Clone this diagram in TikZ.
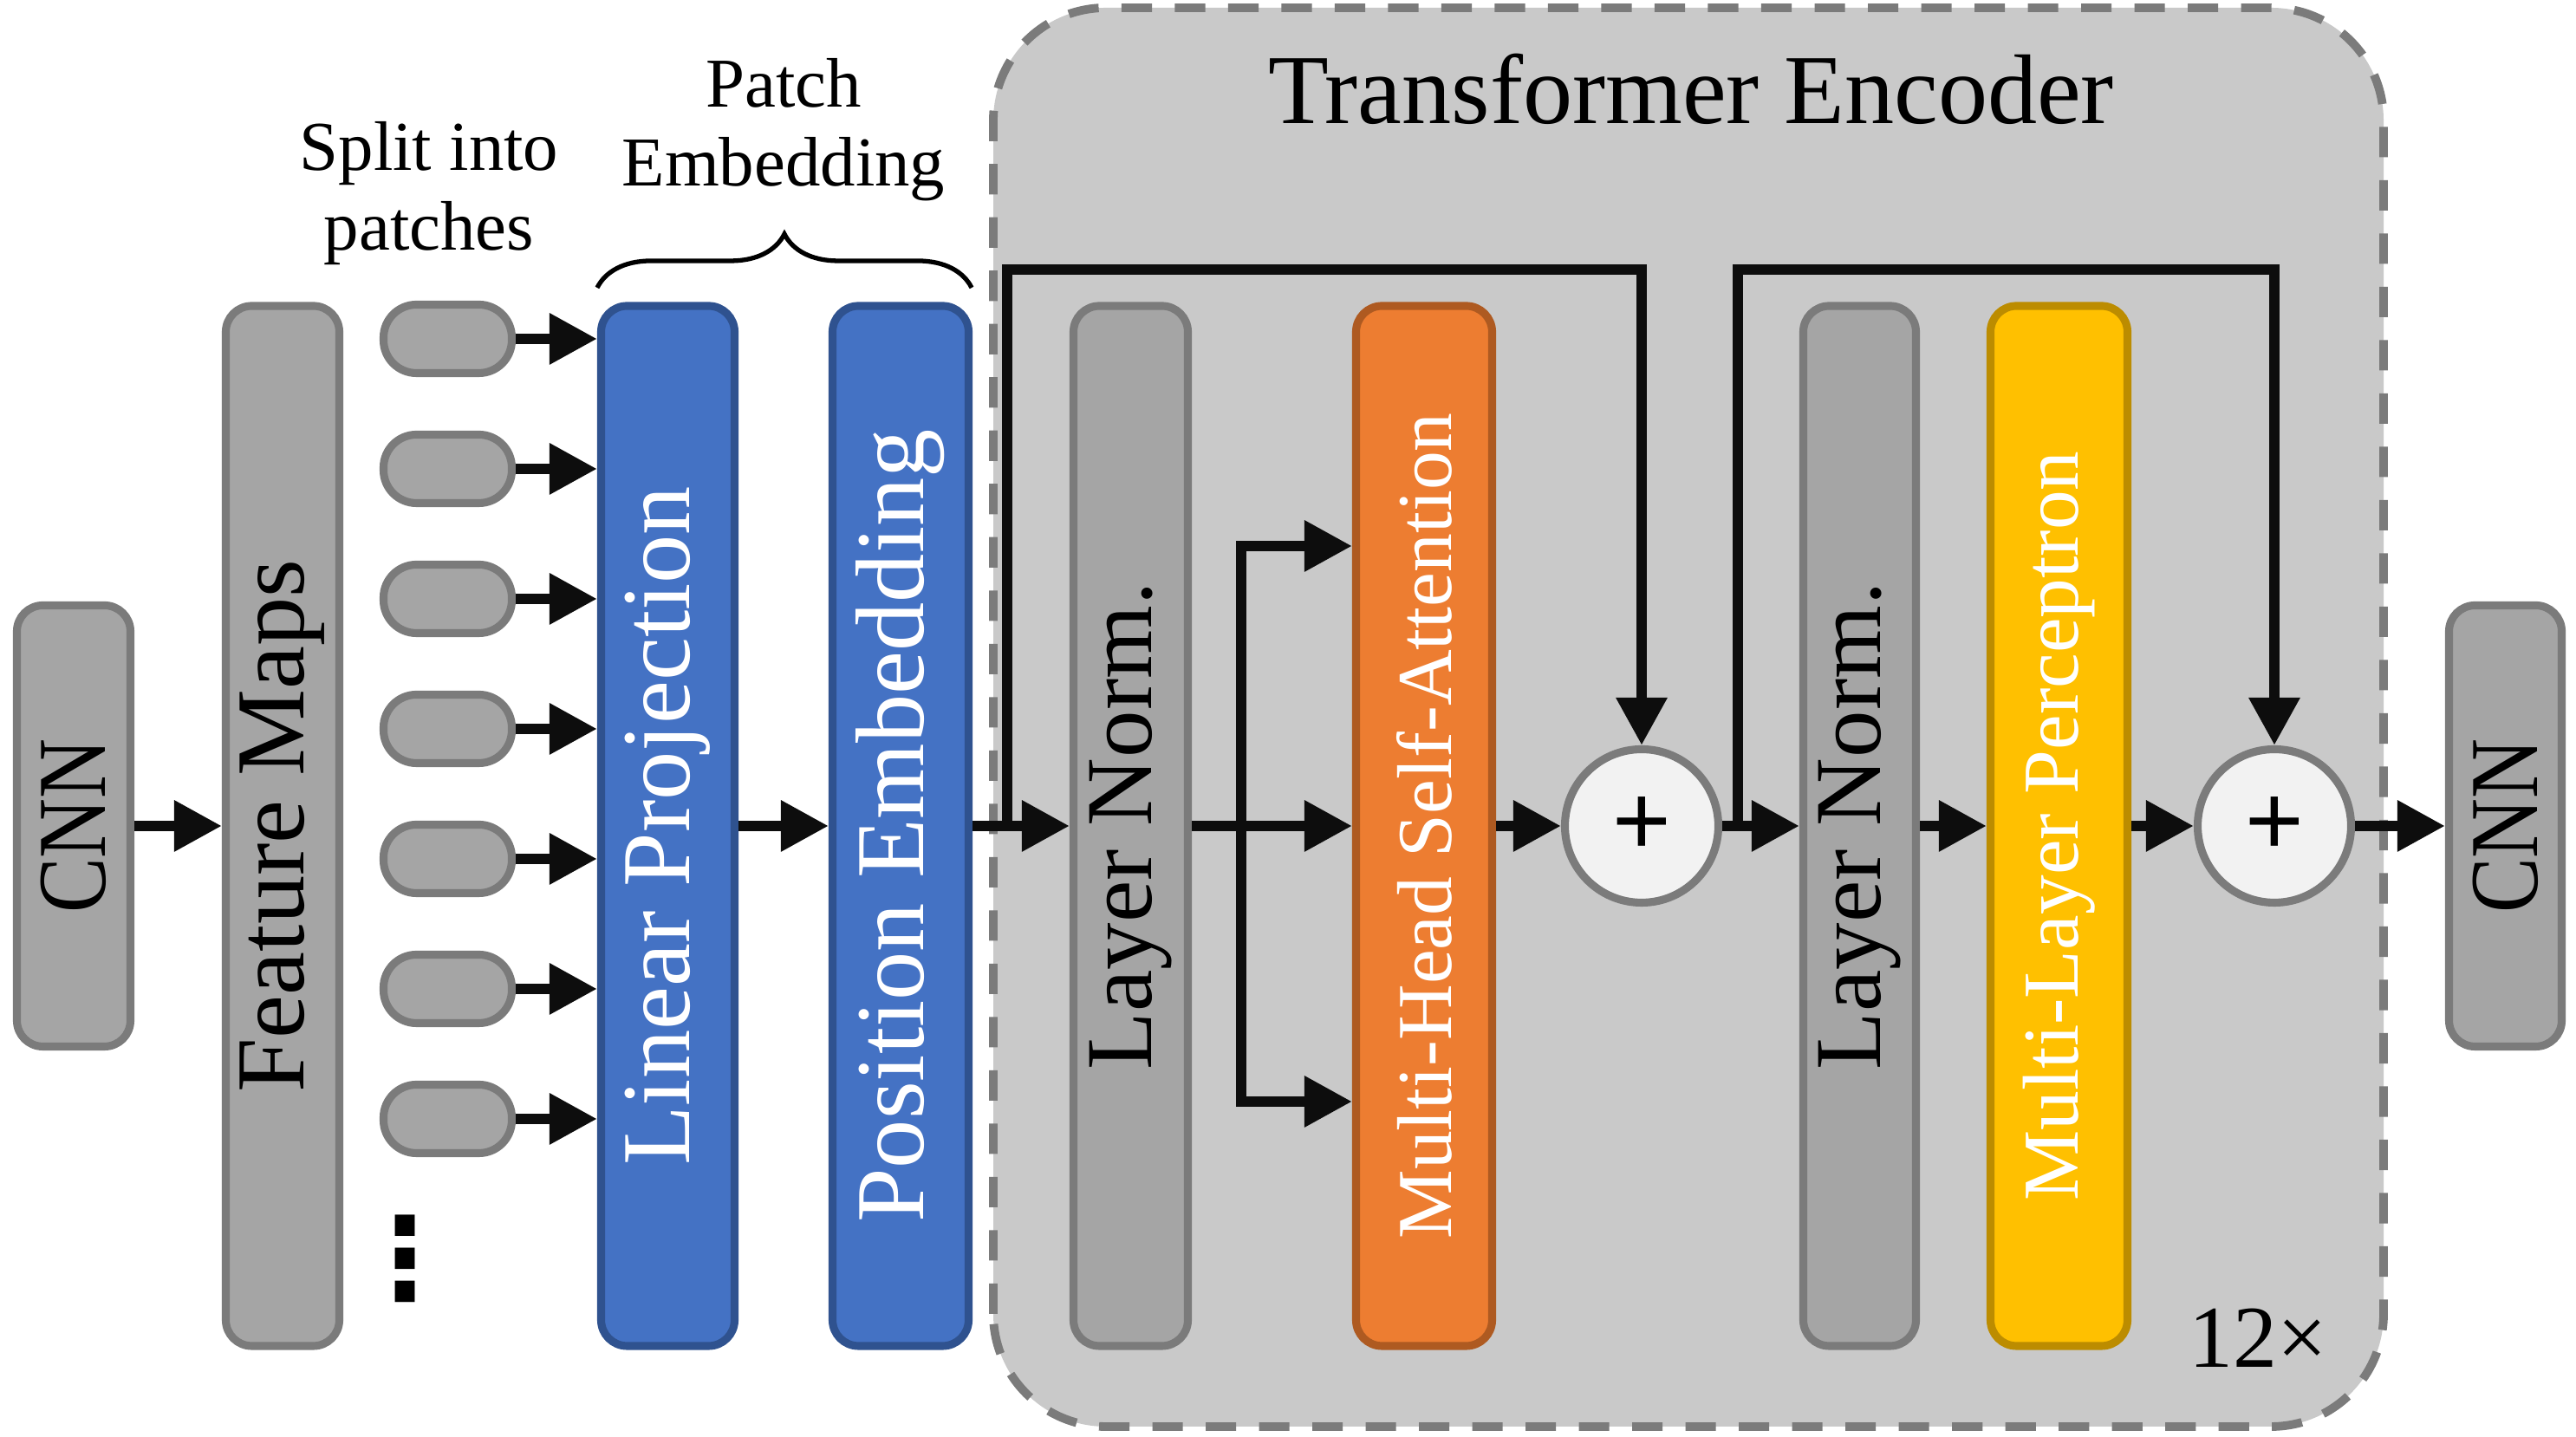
\documentclass[tikz,border=0pt]{standalone}
\usepackage{fontspec}
\setmainfont{Liberation Serif}
\newfontfamily\plusfont{Liberation Sans}
\newfontfamily\dotsfont{DejaVu Sans}
\usetikzlibrary{arrows.meta,decorations.pathreplacing}

\definecolor{boxgray}{HTML}{A5A5A5}
\definecolor{edgegray}{HTML}{7B7B7B}
\definecolor{encgray}{HTML}{C9C9C9}
\definecolor{projblue}{HTML}{4472C4}
\definecolor{projedge}{HTML}{2F528F}
\definecolor{attnorange}{HTML}{ED7D31}
\definecolor{attnedge}{HTML}{AE5A21}
\definecolor{mlpyellow}{HTML}{FFC000}
\definecolor{mlpedge}{HTML}{BC8C00}
\definecolor{addfill}{HTML}{F2F2F2}
\definecolor{arrowblack}{HTML}{0D0D0D}

\tikzset{
  block/.style={line width=2.6pt, rounded corners=0.3cm, inner sep=0pt,
    minimum height=12cm, font=\fontsize{32}{38}\selectfont},
  graybox/.style={block, draw=edgegray, fill=boxgray},
  bluebox/.style={block, draw=projedge, fill=projblue, text=white},
  orangebox/.style={block, draw=attnedge, fill=attnorange, text=white},
  yellowbox/.style={block, draw=mlpedge, fill=mlpyellow, text=white},
  patch/.style={draw=edgegray, fill=boxgray, line width=2.6pt,
    rounded corners=0.38cm, minimum width=1.48cm, minimum height=0.79cm},
  addnode/.style={circle, draw=edgegray, fill=addfill, line width=2.6pt,
    minimum size=1.77cm, inner sep=0pt, font=\plusfont\fontsize{33}{33}\selectfont},
  flow/.style={draw=arrowblack, line width=3.6pt,
    -{Triangle[length=0.55cm,width=0.56cm]}},
  encoder/.style={draw=edgegray, fill=encgray, line width=2.8pt,
    dash pattern=on 10pt off 7.5pt, rounded corners=1.3cm},
  note/.style={align=center, inner sep=0pt, font=\fontsize{23}{26}\selectfont}
}

\begin{document}
\begin{tikzpicture}
\useasboundingbox (0,0) rectangle (29.72,16.58);

% encoder background
\draw[encoder] (11.46,0.12) rectangle (27.50,16.49);
\node[anchor=base, font=\fontsize{32.5}{38}\selectfont] (enctitle) at (19.51,15.15) {Transformer Encoder};
\node[anchor=base, font=\fontsize{29}{29}\selectfont] (reps) at (26.05,0.80) {12×};

% blocks
\node[graybox, minimum width=1.31cm, minimum height=5.09cm] (cnnin) at (0.85,7.05) {\rotatebox{90}{\scalebox{0.85}[1]{CNN}}};
\node[graybox, minimum width=1.31cm] (fmaps) at (3.26,7.05) {\rotatebox{90}{Feature Maps}};
\node[bluebox, minimum width=1.54cm] (lp) at (7.705,7.05) {\rotatebox{90}{Linear Projection}};
\node[bluebox, minimum width=1.57cm] (pe) at (10.39,7.05) {\rotatebox{90}{Position Embedding}};
\node[graybox, minimum width=1.32cm, font=\fontsize{31}{38}\selectfont] (ln1) at (13.045,7.05) {\rotatebox{90}{Layer Norm.}};
\node[orangebox, minimum width=1.57cm, font=\fontsize{25.5}{30}\selectfont] (mhsa) at (16.43,7.05) {\rotatebox{90}{Multi-Head Self-Attention}};
\node[addnode] (add1) at (18.94,7.05) {+};
\node[graybox, minimum width=1.30cm, font=\fontsize{31}{38}\selectfont] (ln2) at (21.455,7.05) {\rotatebox{90}{Layer Norm.}};
\node[yellowbox, minimum width=1.58cm, font=\fontsize{26}{30}\selectfont] (mlp) at (23.755,7.05) {\rotatebox{90}{Multi-Layer Perceptron}};
\node[addnode] (add2) at (26.24,7.05) {+};
\node[graybox, minimum width=1.30cm, minimum height=5.09cm] (cnnout) at (28.905,7.05) {\rotatebox{90}{\scalebox{0.85}[1]{CNN}}};

% patches
\foreach \i in {0,...,6} {
  \node[patch] (p\i) at (5.165,12.67-1.5*\i) {};
  \draw[flow] (p\i.east) -- (p\i.east -| lp.west);
}
\node[font=\dotsfont\bfseries\fontsize{37}{37}\selectfont] (more) at (4.68,2.06) {⋮};

% labels on top
\node[note] (splittxt) at (4.95,14.35) {Split into\\patches};
\node[note] (patchtxt) at (9.04,15.08) {Patch\\Embedding};
\draw[decorate, decoration={brace, amplitude=0.62cm}, line width=1.5pt] (6.89,13.26) -- (11.21,13.26);

% main flow
\draw[flow] (cnnin) -- (fmaps);
\draw[flow] (lp) -- (pe);
\draw[flow] (pe) -- (ln1);
\draw[flow] (ln1) -- (mhsa);
\draw[flow] (mhsa) -- (add1);
\draw[flow] (add1) -- (ln2);
\draw[flow] (ln2) -- (mlp);
\draw[flow] (mlp) -- (add2);
\draw[flow] (add2) -- (cnnout);

% query/key branches
\coordinate (split) at (14.32,7.05);
\draw[flow] (split) |- ([yshift=3.23cm]mhsa.west);
\draw[flow] (split) |- ([yshift=-3.18cm]mhsa.west);

% residual connections
\coordinate (res1) at (11.62,7.05);
\coordinate (res1top) at (11.62,13.47);
\draw[flow] (res1) -- (res1top) -| (add1.north);
\coordinate (res2) at (20.05,7.05);
\coordinate (res2top) at (20.05,13.47);
\draw[flow] (res2) -- (res2top) -| (add2.north);

\end{tikzpicture}
\end{document}
